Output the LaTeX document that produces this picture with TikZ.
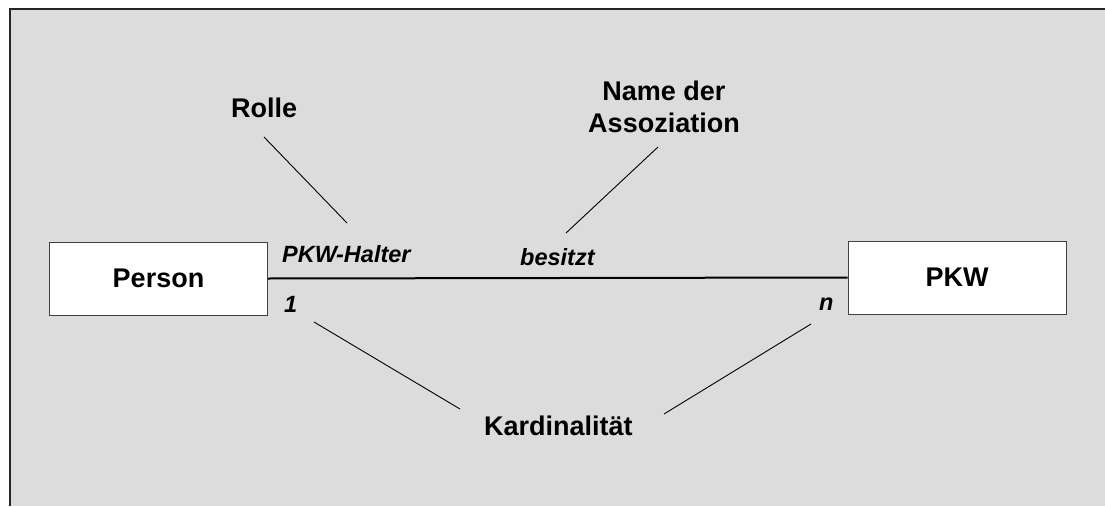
\documentclass[tikz,border=0pt]{standalone}
\usepackage{fontspec}
\setmainfont{Liberation Sans}
\definecolor{bggray}{HTML}{DCDCDC}
\begin{document}
\begin{tikzpicture}[x=1pt,y=-1pt,
  lbl/.style={font=\fontsize{27}{32}\selectfont\bfseries, inner sep=0pt},
  role/.style={font=\fontsize{23.5}{28}\selectfont\bfseries\itshape, inner sep=0pt},
  cls/.style={draw=black!75, fill=white, line width=1pt, minimum width=218pt, minimum height=73pt, inner sep=0pt, font=\fontsize{27}{32}\selectfont\bfseries},
  assoc/.style={line width=2pt, black},
  leader/.style={line width=0.9pt, black}]
\useasboundingbox (0,0) rectangle (1105,506);
\fill[white] (0,0) rectangle (1105,506);
\fill[bggray] (9.5,8.5) rectangle (1105,506);
\draw[line width=2pt, black!85] (9.5,506) -- (9.5,8.5) -- (1105,8.5);
% classes
\node[cls] (person) at (158.5,278.5) {Person};
\node[cls] (pkw) at (957,277.5) {PKW};
\draw[assoc] (person.east) -- (pkw.west);
% association labels
\node[role, anchor=base west] (role) at (282,262) {PKW-Halter};
\node[role, anchor=base west] (name) at (520,265) {besitzt};
\node[role, anchor=base west] (one) at (284,312) {1};
\node[role, anchor=base west] (many) at (819,310) {n};
% explanations
\node[lbl, anchor=base west] (rolle) at (231,117) {Rolle};
\node[lbl, anchor=north, align=center] (nameass) at (664,81) {Name der\\Assoziation};
\node[lbl, anchor=base west] (kard) at (484,435) {Kardinalität};
% leader line ends
\coordinate (r1) at (264,137);
\coordinate (r2) at (347,223);
\coordinate (n1) at (658,147);
\coordinate (n2) at (566,233);
\coordinate (k1) at (460,409);
\coordinate (k2) at (314,322);
\coordinate (k3) at (664,414);
\coordinate (k4) at (811,324);
\draw[leader] (r1) -- (r2);
\draw[leader] (n1) -- (n2);
\draw[leader] (k1) -- (k2);
\draw[leader] (k3) -- (k4);
\end{tikzpicture}
\end{document}
